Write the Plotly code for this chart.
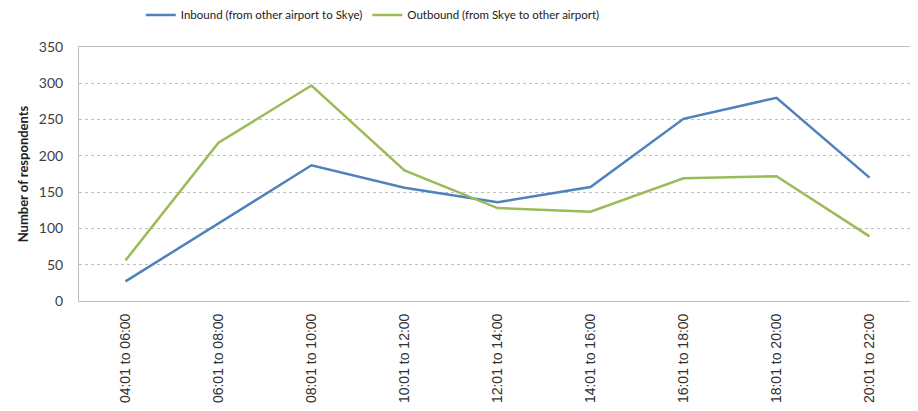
import plotly.graph_objects as go

categories = ["04:01 to 06:00", "06:01 to 08:00", "08:01 to 10:00", "10:01 to 12:00",
              "12:01 to 14:00", "14:01 to 16:00", "16:01 to 18:00", "18:01 to 20:00",
              "20:01 to 22:00"]
inbound = [27, 107, 187, 156, 136, 157, 251, 280, 170]
outbound = [56, 218, 297, 180, 128, 123, 169, 172, 89]
y_ticks = [0, 50, 100, 150, 200, 250, 300, 350]

fig = go.Figure()
fig.add_trace(go.Scatter(x=categories, y=inbound, mode="lines",
                         name="Inbound (from other airport to Skye)",
                         line=dict(color="#4F81BD", width=2.5)))
fig.add_trace(go.Scatter(x=categories, y=outbound, mode="lines",
                         name="Outbound (from Skye to other airport)",
                         line=dict(color="#9BBB59", width=2.5)))

fig.update_layout(
    width=910, height=403,
    margin=dict(l=71, r=2, t=39, b=110, autoexpand=False),
    paper_bgcolor="white", plot_bgcolor="white",
    font=dict(family="Lato, Liberation Sans, sans-serif", size=13, color="#404040"),
    legend=dict(orientation="h", x=0.351, xanchor="center",
                y=1.126, yanchor="middle",
                font=dict(size=11.5, color="#202020"),
                itemwidth=30, tracegroupgap=0),
    showlegend=True,
)
fig.update_xaxes(
    type="category", range=[-0.5, 8.5], tickangle=-90, automargin=False,
    showline=True, linecolor="#BFBFBF", linewidth=1, mirror=True,
    showgrid=False, ticks="", ticklabelstandoff=6,
    tickfont=dict(family="Liberation Sans, Arial, sans-serif", size=14, color="#303030"),
)
fig.update_yaxes(
    range=[0, 350], tickvals=y_ticks, automargin=False,
    showline=True, linecolor="#BFBFBF", linewidth=1, mirror=True,
    showgrid=True, gridcolor="#BFBFBF", griddash="dot", gridwidth=1,
    zeroline=False, ticks="", ticklabelstandoff=12,
    tickfont=dict(size=14, color="#404040"),
    title=dict(text="<b>Number of respondents</b>", standoff=7,
               font=dict(family="Lato, Liberation Sans, sans-serif", size=13, color="#202020")),
)

fig.write_html("out.html")
